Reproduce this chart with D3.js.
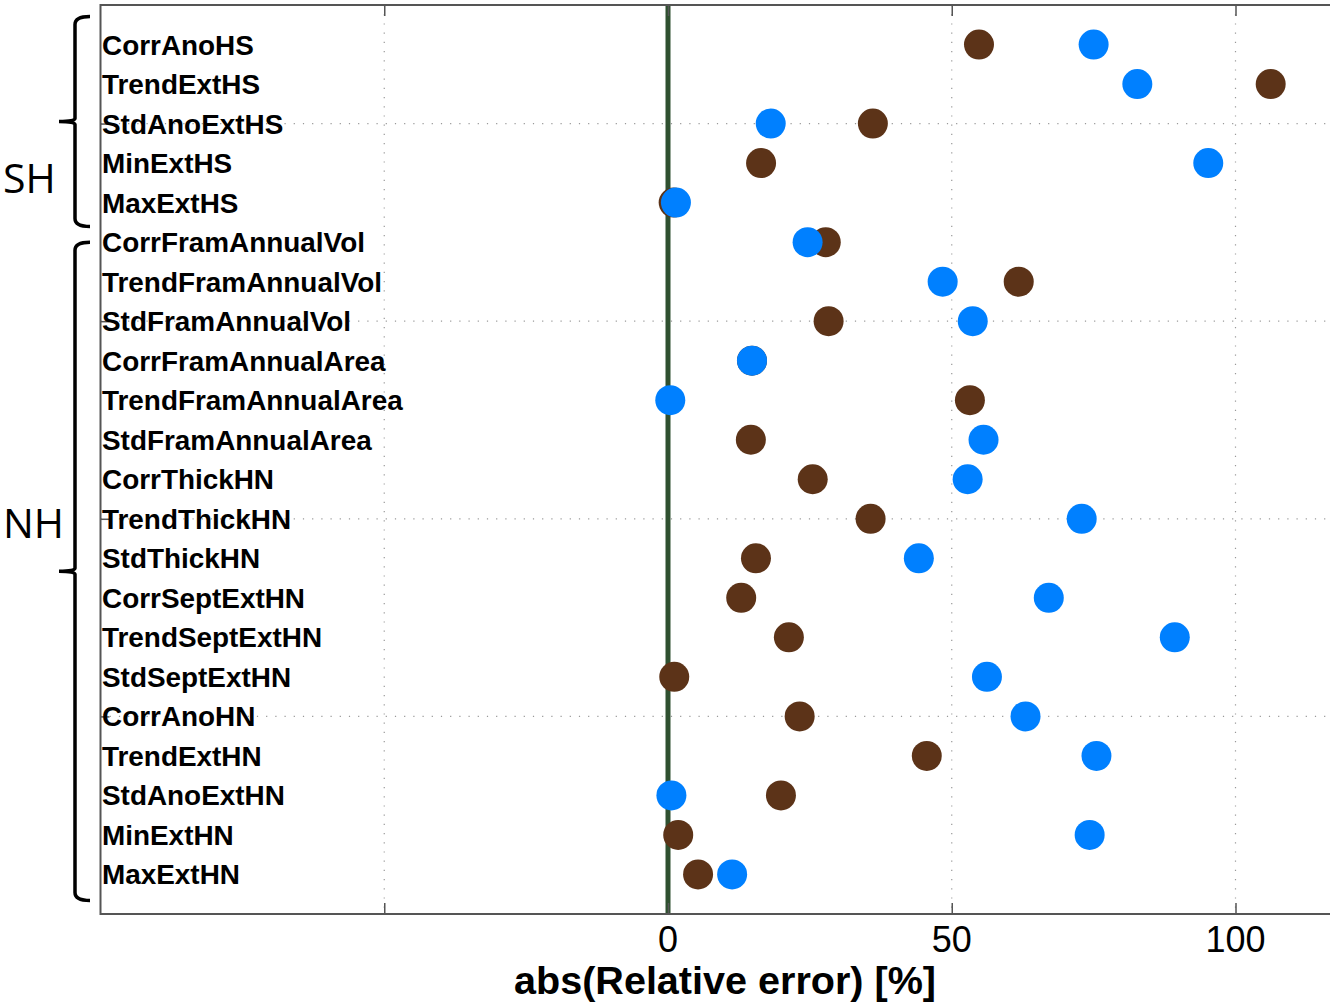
<!DOCTYPE html>
<html>
<head>
<meta charset="utf-8">
<script src="https://cdn.jsdelivr.net/npm/d3@7"></script>
<style>
    body { margin: 0; background: #fff; }
    svg { display: block; }
</style>
</head>
<body>
<svg></svg>
<script>
// rows from top to bottom
const categories = ["CorrAnoHS", "TrendExtHS", "StdAnoExtHS", "MinExtHS", "MaxExtHS",
                    "CorrFramAnnualVol", "TrendFramAnnualVol", "StdFramAnnualVol",
                    "CorrFramAnnualArea", "TrendFramAnnualArea", "StdFramAnnualArea",
                    "CorrThickHN", "TrendThickHN", "StdThickHN",
                    "CorrSeptExtHN", "TrendSeptExtHN", "StdSeptExtHN",
                    "CorrAnoHN", "TrendExtHN", "StdAnoExtHN", "MinExtHN", "MaxExtHN"]

const brownValues = [54.8, 106.2, 36.1, 16.4, 1.0,
                     27.8, 61.8, 28.3,
                     14.8, 53.2, 14.6,
                     25.5, 35.7, 15.5,
                     12.9, 21.3, 1.1,
                     23.2, 45.6, 19.9, 1.8, 5.3]

const blueValues = [75.0, 82.7, 18.1, 95.2, 1.4,
                    24.6, 48.4, 53.7,
                    14.8, 0.4, 55.6,
                    52.8, 72.9, 44.2,
                    67.1, 89.3, 56.2,
                    63.0, 75.5, 0.6, 74.3, 11.3]

const xTicks = [-50, 0, 50, 100]
const xTickLabels = ["", "0", "50", "100"]
const yTicks = [5, 10, 15, 20]

// groups drawn as braces: first and last row of each
const groupNames = ["SH", "NH"]
const groupFirst = [0, 5]
const groupLast = [4, 21]

const w = 1330
const h = 1003
const padLeft = 100.5
const padTop = 5
const axisBottom = 914

let svg = d3.select('svg')
            .attr('width', w)
            .attr('height', h)

let xScale = d3.scaleLinear()
               .domain([-100, 120])
               .range([padLeft, padLeft + 220 * 5.675])

// MATLAB-style y: position 1 at bottom, 22 at top
let yScale = d3.scaleLinear()
               .domain([0, 23])
               .range([axisBottom, padTop])

let rowPos = (i) => categories.length - i

let plot = svg.append('g')

// dotted grid
plot.selectAll('.vgrid')
    .data(xTicks)
    .enter()
    .append('line')
    .attr('x1', d => xScale(d))
    .attr('x2', d => xScale(d))
    .attr('y1', padTop)
    .attr('y2', axisBottom)
    .attr('stroke', '#999')
    .attr('stroke-width', 1.2)
    .attr('stroke-dasharray', '1.2,8')

plot.selectAll('.hgrid')
    .data(yTicks)
    .enter()
    .append('line')
    .attr('x1', padLeft)
    .attr('x2', w)
    .attr('y1', d => yScale(d))
    .attr('y2', d => yScale(d))
    .attr('stroke', '#999')
    .attr('stroke-width', 1.2)
    .attr('stroke-dasharray', '1.2,8')

// zero line
plot.append('line')
    .attr('x1', xScale(0))
    .attr('x2', xScale(0))
    .attr('y1', padTop)
    .attr('y2', axisBottom)
    .attr('stroke', '#2f5030')
    .attr('stroke-width', 5)

// axes (ticks inward)
let xAxisBottom = d3.axisTop(xScale).tickValues(xTicks).tickSize(11).tickFormat('')
let xAxisTop = d3.axisBottom(xScale).tickValues(xTicks).tickSize(11).tickFormat('')
let yAxisLeft = d3.axisRight(yScale).tickValues(yTicks).tickSize(9).tickFormat('')

let styleAxis = (g) => {
    g.select('.domain').remove()
    g.selectAll('.tick line').attr('stroke', '#555').attr('stroke-width', 1.5)
}

svg.append('g').attr('transform', 'translate(0,' + axisBottom + ')').call(xAxisBottom).call(styleAxis)
svg.append('g').attr('transform', 'translate(0,' + padTop + ')').call(xAxisTop).call(styleAxis)
svg.append('g').attr('transform', 'translate(' + padLeft + ',0)').call(yAxisLeft).call(styleAxis)

// frame
svg.append('path')
   .attr('d', `M${w + 5},${padTop}H${padLeft}V${axisBottom}H${w + 5}`)
   .attr('fill', 'none')
   .attr('stroke', '#555')
   .attr('stroke-width', 2)

// tick labels
svg.selectAll('.xlab')
   .data(xTicks)
   .enter()
   .append('text')
   .attr('x', d => xScale(d))
   .attr('y', 952)
   .attr('text-anchor', 'middle')
   .style('font-family', '"Liberation Sans", Arial, sans-serif')
   .style('font-size', '36px')
   .text((d, i) => xTickLabels[i])

svg.append('text')
   .attr('x', 725)
   .attr('y', 994)
   .attr('text-anchor', 'middle')
   .attr('textLength', 422)
   .attr('lengthAdjust', 'spacingAndGlyphs')
   .style('font-family', '"Liberation Sans", Arial, sans-serif')
   .style('font-weight', 'bold')
   .style('font-size', '38px')
   .text('abs(Relative error) [%]')

// category labels inside the axes
svg.selectAll('.cat')
   .data(categories)
   .enter()
   .append('text')
   .attr('x', 102)
   .attr('y', (d, i) => yScale(rowPos(i)) + 10)
   .style('font-family', '"Liberation Sans", Arial, sans-serif')
   .style('font-weight', 'bold')
   .style('font-size', '27.9px')
   .text(d => d)

// dots: brown first, then blue on top
svg.selectAll('.brown')
   .data(brownValues)
   .enter()
   .append('circle')
   .attr('cx', d => xScale(d))
   .attr('cy', (d, i) => yScale(rowPos(i)))
   .attr('r', 15)
   .attr('fill', '#5c3318')

svg.selectAll('.blue')
   .data(blueValues)
   .enter()
   .append('circle')
   .attr('cx', d => xScale(d))
   .attr('cy', (d, i) => yScale(rowPos(i)))
   .attr('r', 15)
   .attr('fill', '#0080ff')

// braces on the left
let bx = 75
let braceTopPad = [28, 0]
let braceBottomPad = [24, 26]
let labelY = [193, 538]
groupNames.forEach((name, k) => {
    let y0 = yScale(rowPos(groupFirst[k])) - braceTopPad[k]
    let y1 = yScale(rowPos(groupLast[k])) + braceBottomPad[k]
    let ym = (y0 + y1) / 2
    let p = `M${bx + 15},${y0} Q${bx},${y0} ${bx},${y0 + 8} V${ym - 3} Q${bx},${ym} ${bx - 16},${ym}` +
            ` Q${bx},${ym} ${bx},${ym + 3} V${y1 - 8} Q${bx},${y1} ${bx + 15},${y1}`
    svg.append('path')
       .attr('d', p)
       .attr('fill', 'none')
       .attr('stroke', '#000')
       .attr('stroke-width', 3.5)

    svg.append('text')
       .attr('x', 3)
       .attr('y', labelY[k])
       .style('font-family', '"Open Sans", sans-serif')
       .style('font-size', '41px')
       .text(name)
})
</script>
</body>
</html>
